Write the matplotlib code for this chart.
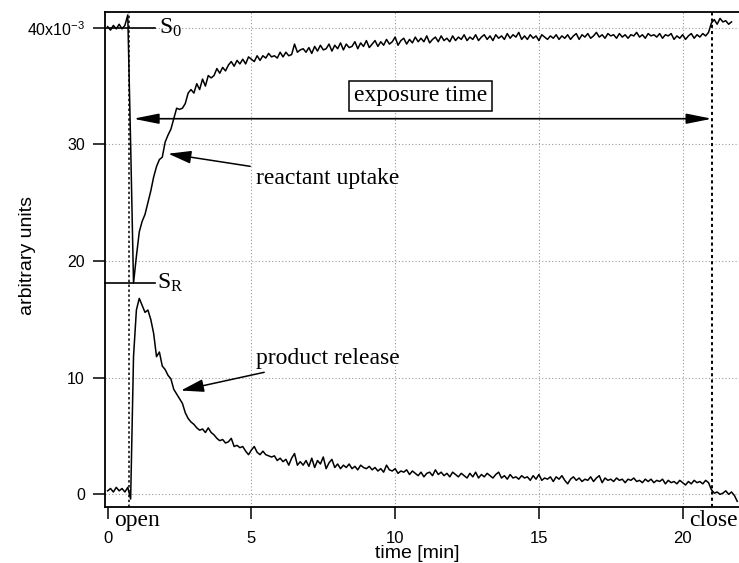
import matplotlib
matplotlib.use("Agg")
import matplotlib.pyplot as plt

# ---------------- data ----------------
dt = 0.1  # sampling interval [min]
reactant = [
    40.1, 39.8, 40.2, 39.9, 40.3, 39.9, 40.2, 41.1, 30.0, 18.1,
    20.4, 22.5, 23.4, 24.0, 25.0, 26.0, 27.2, 28.1, 28.7, 28.9,
    30.2, 30.8, 31.3, 32.2, 33.1, 33.0, 33.1, 33.5, 34.4, 34.7,
    34.4, 35.2, 34.7, 35.6, 35.0, 35.9, 35.7, 35.9, 36.5, 36.1,
    36.6, 36.3, 36.8, 37.1, 36.7, 37.2, 36.9, 37.3, 36.9, 37.5,
    37.3, 37.1, 37.6, 37.2, 37.6, 37.4, 37.8, 37.5, 37.6, 37.4,
    37.9, 37.5, 37.9, 37.6, 37.7, 38.6, 37.9, 38.1, 38.2, 37.9,
    38.3, 37.8, 38.4, 38.0, 38.5, 38.1, 38.2, 38.6, 38.0, 38.5,
    38.2, 38.7, 38.1, 38.6, 38.3, 38.4, 38.8, 38.2, 38.7, 38.4,
    38.9, 38.3, 38.6, 38.9, 38.4, 38.8, 38.5, 39.0, 38.6, 38.8,
    39.2, 38.5, 38.9, 39.1, 38.6, 39.0, 38.7, 39.2, 38.8, 39.1,
    38.8, 39.3, 38.7, 39.0, 39.2, 38.8, 39.3, 38.9, 39.1, 38.8,
    39.3, 38.9, 39.2, 39.0, 39.4, 38.9, 39.2, 39.0, 39.4, 38.9,
    39.2, 39.4, 39.0, 39.3, 38.9, 39.4, 39.1, 39.3, 39.0, 39.5,
    39.1, 39.4, 39.2, 39.6, 39.0, 39.3, 39.0, 39.4, 39.1, 39.3,
    38.9, 39.4, 39.2, 39.0, 39.3, 39.1, 39.4, 39.0, 39.3, 39.1,
    39.4, 39.0, 39.3, 39.5, 39.0, 39.4, 39.2, 39.5, 39.1, 39.3,
    39.6, 39.2, 39.4, 39.1, 39.5, 39.3, 39.4, 39.1, 39.5, 39.2,
    39.4, 39.1, 39.4, 39.3, 39.6, 39.2, 39.4, 39.1, 39.5, 39.3,
    39.4, 39.2, 39.5, 39.1, 39.4, 39.3, 39.5, 39.0, 39.3, 39.1,
    39.4, 39.0, 39.3, 39.5, 39.1, 39.4, 39.2, 39.5, 39.3, 39.6,
    40.4, 40.7, 40.3, 40.8, 40.5, 40.6, 40.3, 40.5,
]
product = [
    0.3, 0.5, 0.2, 0.6, 0.3, 0.5, 0.2, 0.6, -0.4, 11.8,
    15.8, 16.8, 16.2, 15.6, 15.8, 15.0, 13.8, 11.8, 12.2, 11.0,
    10.7, 10.2, 9.9, 9.0, 8.6, 8.2, 7.8, 7.0, 6.5, 6.2,
    6.0, 5.7, 5.5, 5.6, 5.3, 5.7, 5.3, 5.1, 4.8, 4.6,
    4.7, 4.4, 4.5, 4.8, 4.1, 4.2, 4.0, 4.1, 3.7, 3.4,
    3.8, 4.1, 3.6, 3.4, 3.7, 3.4, 3.3, 3.2, 3.3, 2.9,
    3.1, 2.8, 3.0, 2.5, 3.1, 3.5, 2.5, 2.8, 2.5, 2.9,
    2.4, 3.1, 2.3, 2.9, 2.6, 3.2, 2.2, 2.7, 3.0, 2.3,
    2.6, 2.2, 2.5, 2.3, 2.6, 2.2, 2.4, 2.1, 2.5, 2.3,
    2.2, 2.4, 2.1, 2.3, 2.0, 2.2, 1.9, 2.5, 2.1, 2.0,
    2.2, 1.8, 2.0, 1.9, 2.1, 1.7, 2.0, 1.8, 1.6, 1.9,
    1.5, 1.8, 1.9, 1.6, 2.1, 1.7, 1.9, 1.6, 1.8, 1.5,
    1.9, 1.7, 1.5, 1.8, 1.6, 1.4, 1.8, 1.5, 1.9, 1.4,
    1.7, 1.5, 1.8, 1.6, 1.4, 1.7, 1.9, 1.4, 1.6, 1.3,
    1.7, 1.4, 1.5, 1.3, 1.6, 1.4, 1.5, 1.2, 1.6, 1.3,
    1.7, 1.2, 1.4, 1.3, 1.5, 1.1, 1.5, 1.3, 1.6, 1.2,
    0.9, 1.3, 1.5, 1.2, 1.4, 1.1, 1.3, 1.2, 1.5, 1.1,
    1.4, 1.6, 1.0, 1.4, 1.2, 1.3, 1.1, 1.4, 1.2, 1.3,
    1.0, 1.3, 1.2, 1.4, 1.1, 1.2, 1.0, 1.3, 1.1, 1.3,
    1.0, 1.2, 1.1, 1.3, 0.9, 1.2, 1.0, 1.1, 0.9, 1.2,
    1.0, 0.8, 1.1, 0.9, 1.2, 1.0, 1.1, 0.9, 1.2, 1.0,
    0.4, 0.1, 0.2, 0.0, 0.1, 0.3, 0.0, 0.2, -0.1, -0.6,
]
t_reactant = [round(i * dt, 1) for i in range(len(reactant))]
t_product = [round(i * dt, 1) for i in range(len(product))]

t_open = 0.74
t_close = 21.02
S0 = 40.0
SR = 18.1
x_ticks = [0, 5, 10, 15, 20]
y_ticks = [0, 10, 20, 30, 40]
y_ticklabels = ["0", "10", "20", "30", r"$\mathregular{40x10^{-3}}$"]

# ---------------- figure ----------------
plt.rcParams["font.family"] = ["Liberation Sans", "DejaVu Sans"]
fig = plt.figure(figsize=(7.39, 5.63), dpi=100)
ax = fig.add_axes([0.142, 0.100, 0.858, 0.8787])

XMIN, XMAX = -0.094, 21.96
YMIN, YMAX = -1.06, 41.35
ax.set_xlim(XMIN, XMAX)
ax.set_ylim(YMIN, YMAX)

# grid (dotted)
for xv in x_ticks[1:]:
    ax.axvline(xv, color="#9a9a9a", lw=0.8, ls=(0, (1, 2)), zorder=0)
for yv in y_ticks:
    ax.axhline(yv, color="#9a9a9a", lw=0.8, ls=(0, (1, 2)), zorder=0)

# open/close markers
ax.axvline(t_open, color="black", lw=1.1, ls=(0, (1.6, 1.6)), zorder=1)
ax.axvline(t_close, color="black", lw=1.4, ls=(0, (1.6, 1.6)), zorder=1)

# data
ax.plot(t_reactant, reactant, color="black", lw=1.1, zorder=3)
ax.plot(t_product, product, color="black", lw=1.1, zorder=3)

# S0 / SR reference segments
ax.plot([XMIN, 1.65], [S0, S0], color="black", lw=1.2, clip_on=False, zorder=4)
ax.plot([XMIN, 1.65], [SR, SR], color="black", lw=1.2, clip_on=False, zorder=4)
serif = ["Liberation Serif", "DejaVu Serif"]
ax.text(1.8, S0, r"$\mathregular{S_0}$", family=serif, fontsize=17,
        ha="left", va="center")
ax.text(1.72, SR, r"$\mathregular{S_R}$", family=serif, fontsize=17,
        ha="left", va="center")

# exposure time double arrow
ax.annotate("", xy=(t_close, 32.2), xytext=(0.89, 32.2),
            arrowprops=dict(arrowstyle="<|-|>,head_length=1.1,head_width=0.22",
                            mutation_scale=14, color="black", lw=1.2,
                            shrinkA=0, shrinkB=0))
ax.text(10.89, 34.15, "exposure time", family=serif, fontsize=17,
        ha="center", va="center",
        bbox=dict(boxstyle="square,pad=0.2", fc="white", ec="black", lw=1.1))

# annotations
ax.annotate("reactant uptake", xy=(2.11, 29.2), xytext=(5.15, 27.1),
            family=serif, fontsize=17, ha="left", va="center",
            arrowprops=dict(arrowstyle="-|>,head_length=1.0,head_width=0.28",
                            mutation_scale=14, color="black", lw=1.1,
                            shrinkA=2, shrinkB=0))
ax.annotate("product release", xy=(2.55, 8.9), xytext=(5.15, 11.65),
            family=serif, fontsize=17, ha="left", va="center",
            arrowprops=dict(arrowstyle="-|>,head_length=1.0,head_width=0.28",
                            mutation_scale=14, color="black", lw=1.1,
                            shrinkA=2, shrinkB=0))

ax.text(1.02, -2.75, "open", family=serif, fontsize=17, ha="center",
        va="baseline", clip_on=False)
ax.text(20.22, -2.75, "close", family=serif, fontsize=17, ha="left",
        va="baseline", clip_on=False)

# axes styling
for side in ["left", "bottom", "top"]:
    ax.spines[side].set_linewidth(1.3)
ax.spines["right"].set_visible(False)
ax.set_xticks(x_ticks)
ax.set_yticks(y_ticks)
ax.set_yticklabels(y_ticklabels)
ax.tick_params(axis="both", direction="out", length=8.5, width=1.1,
               labelsize=11.5, top=False, right=False)
ax.tick_params(axis="x", pad=9, labelsize=12)
ax.tick_params(axis="y", pad=6)

ax.set_xlabel("time [min]", fontsize=14)
ax.xaxis.set_label_coords(0.492, -0.094)
ax.xaxis.label.set_va("center")
ax.set_ylabel("arbitrary units", fontsize=14)
ax.yaxis.set_label_coords(-0.1215, 0.507)
ax.yaxis.label.set_va("center")

fig.savefig("out.png", dpi=100)
